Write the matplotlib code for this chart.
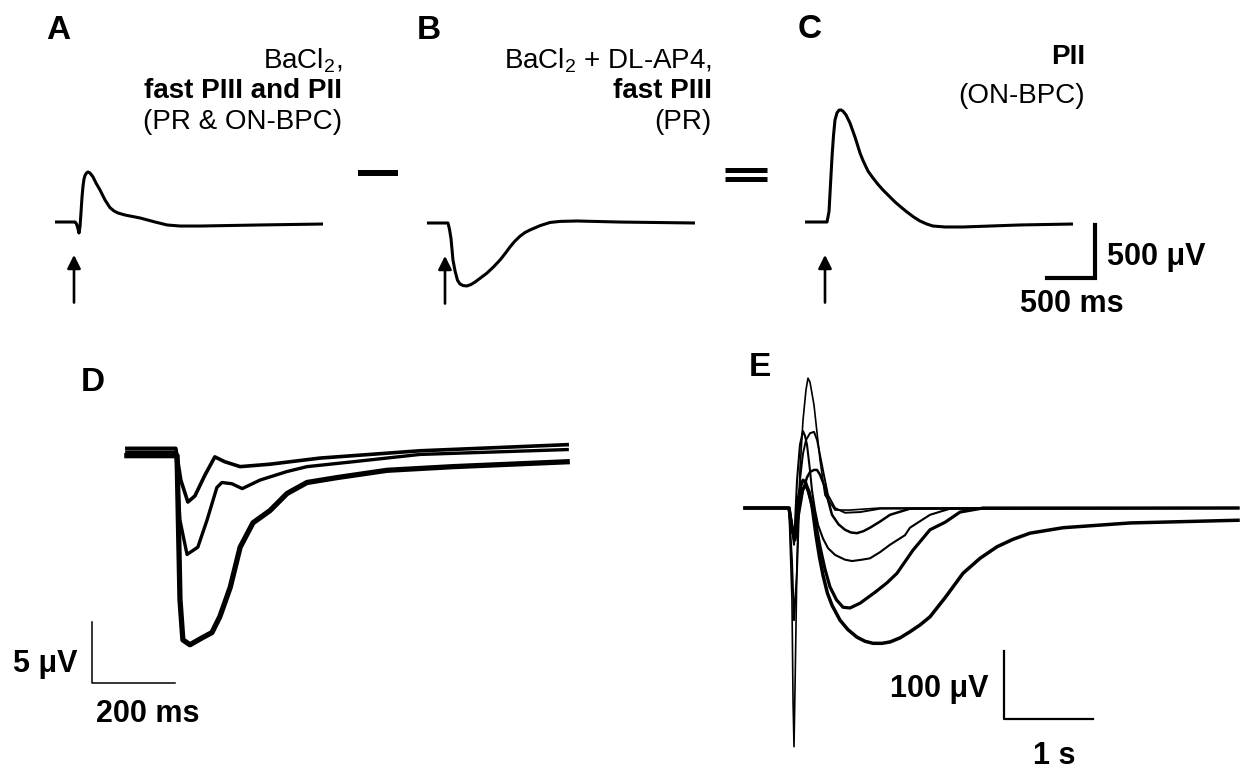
import matplotlib
matplotlib.use("Agg")
import matplotlib.pyplot as plt
from matplotlib.lines import Line2D

plt.rcParams['font.family'] = ['Liberation Sans', 'DejaVu Sans']
plt.rcParams['mathtext.fontset'] = 'custom'
plt.rcParams['mathtext.rm'] = 'Liberation Sans'

################################
# Data (time in ms, voltage in uV, stimulus at t = 0)
################################
# Panel A: BaCl2, fast PIII and PII
a_t = [-198, 10, 21, 31, 42, 52, 63, 73, 83, 94, 104, 115, 130, 146, 167, 198, 229, 271,
       323, 375, 417, 458, 531, 688, 844, 969, 1104, 1313, 1938, 2594]
a_v = [0, 0, -10, -30, -66, -104, -40, 90, 230, 340, 405, 440, 462, 472, 462, 425, 368, 302,
       208, 135, 104, 85, 66, 38, 0, -28, -38, -38, -28, -19]
# Panel B: BaCl2 + DL-AP4, fast PIII
b_t = [-188, 10, 31, 47, 63, 83, 104, 130, 156, 188, 229, 271, 313, 375, 438, 510, 573, 625,
       677, 729, 781, 833, 885, 990, 1094, 1198, 1375, 1823, 2604]
b_v = [0, 0, 0, -60, -150, -349, -450, -540, -575, -590, -594, -580, -557, -515, -472, -410,
       -349, -290, -226, -170, -125, -90, -66, -25, 5, 15, 19, 9, 0]
# Panel C: PII (difference)
c_t = [-208, 21, 42, 57, 73, 89, 104, 125, 146, 167, 188, 219, 260, 313, 365, 396, 448, 500,
       552, 604, 667, 729, 792, 854, 927, 990, 1063, 1125, 1250, 1438, 2031, 2583]
c_v = [0, 0, 100, 350, 613, 820, 962, 1030, 1055, 1057, 1045, 1010, 934, 800, 650, 580, 480,
       415, 355, 302, 245, 189, 140, 94, 45, 9, -20, -38, -47, -47, -28, -19]

# Panel D: three responses
d_t1 = [-116, 2, 14, 31, 48, 72, 96, 120, 157, 229, 349, 590, 945]
d_v1 = [0.3, 0.3, -2.3, -4.1, -3.6, -1.9, -0.4, -0.8, -1.2, -1.0, -0.5, 0.1, 0.6]
d_t2 = [-116, 2, 12, 29, 55, 77, 101, 113, 137, 162, 205, 270, 318, 429, 590, 945]
d_v2 = [0, 0, -5.6, -8.4, -7.8, -5.6, -2.9, -2.5, -2.6, -3.0, -2.3, -1.6, -1.2, -0.8, -0.2, 0.2]
d_t3 = [-116, 5, 12, 19, 36, 67, 89, 108, 133, 157, 188, 229, 270, 318, 390, 511, 670, 945]
d_v3 = [-0.3, -0.3, -12.1, -15.4, -15.8, -15.2, -14.8, -13.5, -11.1, -7.8, -5.8, -4.8, -3.4,
        -2.5, -2.1, -1.5, -1.2, -0.8]

# Panel E: six responses
e_t1 = [-506, -11, 22, 34, 45, 56, 79, 112, 146, 180, 202, 225, 270, 337, 393, 506, 674, 1011, 5034]
e_v1 = [0, 0, -135, -282, -351, -268, -76, 56, 129, 174, 191, 185, 151, 71, 19, -3, -3, 0, 0]
e_t2 = [-506, -11, 22, 45, 79, 112, 146, 180, 225, 270, 304, 337, 382, 427, 506, 618, 787, 1011, 5034]
e_v2 = [0, 0, -76, -165, -91, 41, 80, 100, 110, 112, 100, 78, 48, 19, 0, -7, -6, -1, 0]
e_t3 = [-506, -11, 22, 45, 79, 146, 191, 225, 270, 303, 337, 382, 427, 472, 545, 618, 685, 753,
        826, 899, 1011, 1124, 1348, 5034]
e_v3 = [0, 0, -25, -47, -25, 26, 45, 53, 56, 56, 49, 34, 12, -10, -24, -32, -36, -37, -34,
        -29, -20, -10, -1, 0]
e_t4 = [-506, -11, 22, 45, 79, 112, 146, 169, 191, 225, 247, 281, 315, 371, 427, 506, 618, 697,
        809, 899, 1011, 1124, 1292, 1348, 1573, 1798, 5034]
e_v4 = [0, 0, -25, -54, 41, 93, 113, 106, 93, 55, 26, -3, -25, -45, -59, -69, -76, -78,
        -76, -74, -65, -54, -40, -29, -10, -1, 0]
e_t5 = [-506, -11, 22, 56, 90, 120, 146, 175, 202, 236, 270, 303, 337, 393, 449, 522, 596, 674,
        787, 955, 1090, 1202, 1382, 1573, 1742, 1910, 2169, 5034]
e_v5 = [0, 0, -32, -47, 12, 32, 41, 38, 26, 10, -10, -33, -57, -90, -116, -135, -146, -147,
        -140, -124, -110, -96, -62, -32, -21, -6, 0, 0]
e_t6 = [-506, -11, 22, 56, 101, 135, 180, 213, 247, 292, 331, 371, 420, 472, 562, 652, 753, 843,
        933, 1034, 1124, 1236, 1348, 1461, 1573, 1742, 1944, 2135, 2326, 2506, 2697, 3068, 3820, 5034]
e_v6 = [0, 0, -29, -44, 12, 26, 34, 24, 4, -40, -72, -99, -125, -143, -165, -179, -190, -196,
        -199, -199, -197, -191, -182, -172, -160, -132, -96, -74, -57, -46, -37, -29, -22, -18]

################################
# Figure
################################
W, H = 1246, 772
fig = plt.figure(figsize=(W / 100, H / 100), dpi=100)


def px_axes(x0, y0, x1, y1, ox, oy, xs, ys):
    # pixel box (top-left origin), pixel of data origin, data units per pixel
    ax = fig.add_axes([x0 / W, 1 - y1 / H, (x1 - x0) / W, (y1 - y0) / H])
    ax.set_xlim((x0 - ox) * xs, (x1 - ox) * xs)
    ax.set_ylim((oy - y1) * ys, (oy - y0) * ys)
    ax.axis('off')
    return ax


def ftext(x, y, s, **kw):
    fig.text(x / W, 1 - y / H, s, **kw)


top_xs = 500 / 48.0
top_ys = 500 / 53.0
axA = px_axes(40, 140, 350, 320, 74, 222, top_xs, top_ys)
axB = px_axes(410, 140, 720, 320, 445, 223, top_xs, top_ys)
axC = px_axes(790, 90, 1240, 330, 825, 222, top_xs, top_ys)

for ax, t, v in [(axA, a_t, a_v), (axB, b_t, b_v), (axC, c_t, c_v)]:
    ax.plot(t, v, color='k', lw=2.2, solid_joinstyle='round', solid_capstyle='butt')
    ax.annotate('', xy=(0, -310), xytext=(0, -760),
                arrowprops=dict(arrowstyle='-|>', lw=1.9, color='k', mutation_scale=20,
                                shrinkA=0, shrinkB=0))

# scale bar, top row
axC.plot([2313, 2813, 2813], [-528, -528, -28], color='k', lw=3.0, solid_joinstyle='miter')
axC.text(2938, -406, '500 \u03bcV', fontsize=22, fontweight='bold', ha='left', va='baseline')
axC.text(2573, -849, '500 ms', fontsize=22, fontweight='bold', ha='center', va='baseline')

# minus and equals signs
fig.add_artist(Line2D([358 / W, 398 / W], [1 - 173 / H] * 2, color='k', lw=4.3,
                      solid_capstyle='butt'))
fig.add_artist(Line2D([725 / W, 767 / W], [1 - 169.5 / H] * 2, color='k', lw=3.6,
                      solid_capstyle='butt'))
fig.add_artist(Line2D([725 / W, 767 / W], [1 - 178.5 / H] * 2, color='k', lw=3.6,
                      solid_capstyle='butt'))

# panel labels
for s, x, y in [('A', 46, 39), ('B', 417, 39), ('C', 798, 38), ('D', 81, 391), ('E', 749, 376)]:
    ftext(x, y, s, fontsize=24, fontweight='bold', ha='left', va='baseline')

# panel titles
lab = 20
ftext(342, 68, 'BaCl$_\\mathregular{2}$,', fontsize=lab, ha='right', va='baseline')
ftext(342, 98, 'fast PIII and PII', fontsize=lab, fontweight='bold', ha='right', va='baseline')
ftext(342, 129, '(PR & ON-BPC)', fontsize=lab, ha='right', va='baseline')
ftext(712, 68, 'BaCl$_\\mathregular{2}$ + DL-AP4,', fontsize=lab, ha='right', va='baseline')
ftext(712, 98, 'fast PIII', fontsize=lab, fontweight='bold', ha='right', va='baseline')
ftext(712, 129, '(PR)', fontsize=lab, ha='right', va='baseline')
ftext(1085, 64, 'PII', fontsize=lab, fontweight='bold', ha='right', va='baseline')
ftext(1085, 103, '(ON-BPC)', fontsize=lab, ha='right', va='baseline')

# Panel D
axD = px_axes(0, 340, 620, 772, 175, 452, 200 / 83.0, 5 / 61.0)
axD.plot(d_t1, d_v1, color='k', lw=2.6, solid_joinstyle='round')
axD.plot(d_t2, d_v2, color='k', lw=2.4, solid_joinstyle='round')
axD.plot(d_t3, d_v3, color='k', lw=3.8, solid_joinstyle='round')
axD.plot([-200, -200, 0], [-13.9, -18.9, -18.9], color='k', lw=1.1)
axD.text(-236, -18.0, '5 \u03bcV', fontsize=22, fontweight='bold', ha='right', va='baseline')
axD.text(-190, -22.1, '200 ms', fontsize=22, fontweight='bold', ha='left', va='baseline')

# Panel E
axE = px_axes(740, 340, 1246, 772, 790, 508, 1000 / 89.0, 100 / 68.0)
for t, v, w in [(e_t1, e_v1, 1.2), (e_t2, e_v2, 1.4), (e_t3, e_v3, 1.8),
                (e_t4, e_v4, 1.5), (e_t5, e_v5, 2.3), (e_t6, e_v6, 2.5)]:
    axE.plot(t, v, color='k', lw=w, solid_joinstyle='round')
axE.plot([2404, 2404, 3404], [-210, -310, -310], color='k', lw=1.6)
axE.text(2225, -278, '100 \u03bcV', fontsize=22, fontweight='bold', ha='right', va='baseline')
axE.text(2966, -376, '1 s', fontsize=22, fontweight='bold', ha='center', va='baseline')

fig.savefig('out.png', dpi=100)
